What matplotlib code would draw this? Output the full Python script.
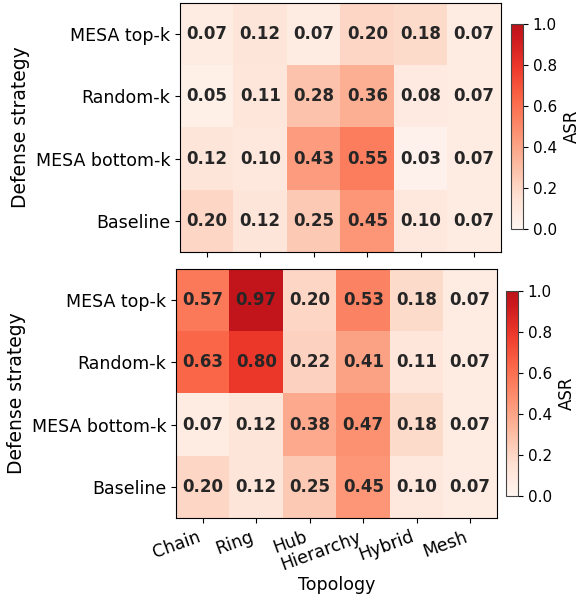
import numpy as np
import matplotlib
matplotlib.use("Agg")
import matplotlib.pyplot as plt
from matplotlib.colors import LinearSegmentedColormap

topologies = ["Chain", "Ring", "Hub", "Hierarchy", "Hybrid", "Mesh"]
strategies = ["MESA top-k", "Random-k", "MESA bottom-k", "Baseline"]

asr_top = np.array([
    [0.07, 0.12, 0.07, 0.20, 0.18, 0.07],
    [0.05, 0.11, 0.28, 0.36, 0.08, 0.07],
    [0.12, 0.10, 0.43, 0.55, 0.03, 0.07],
    [0.20, 0.12, 0.25, 0.45, 0.10, 0.07],
])
asr_bottom = np.array([
    [0.57, 0.97, 0.20, 0.53, 0.18, 0.07],
    [0.63, 0.80, 0.22, 0.41, 0.11, 0.07],
    [0.07, 0.12, 0.38, 0.47, 0.18, 0.07],
    [0.20, 0.12, 0.25, 0.45, 0.10, 0.07],
])

# Reds, cut before the darkest maroon end
reds = plt.get_cmap("Reds")
cmap = LinearSegmentedColormap.from_list("reds_cut", reds(np.linspace(0, 0.8, 256)))

fig = plt.figure(figsize=(5.84, 5.96), dpi=100)
W, H = 584, 596


def box(x0, y0, x1, y1):
    return [x0 / W, 1 - y1 / H, (x1 - x0) / W, (y1 - y0) / H]


panels = [
    (asr_top, box(180, 3, 501, 252), box(511, 24, 523, 229), False),
    (asr_bottom, box(176, 269, 497, 518), box(506, 291, 518, 496), True),
]

for data, apos, cpos, show_x in panels:
    ax = fig.add_axes(apos)
    cax = fig.add_axes(cpos)
    im = ax.imshow(data, cmap=cmap, vmin=0, vmax=1, aspect="auto")
    for i in range(data.shape[0]):
        for j in range(data.shape[1]):
            ax.text(j, i, f"{data[i, j]:.2f}", ha="center", va="center",
                    fontsize=12, fontweight="bold", color="#262626")
    ax.set_yticks(range(len(strategies)))
    ax.set_yticklabels(strategies, fontsize=12.5)
    ax.set_xticks(range(len(topologies)))
    if show_x:
        ax.set_xticklabels(topologies, fontsize=12.5, rotation=20, ha="right")
        ax.set_xlabel("Topology", fontsize=12.5, labelpad=2)
    else:
        ax.set_xticklabels([])
    ax.set_ylabel("Defense strategy", fontsize=13.5)
    cb = fig.colorbar(im, cax=cax)
    cb.set_label("ASR", fontsize=12)
    cb.ax.tick_params(labelsize=11)
    cb.set_ticks([0, 0.2, 0.4, 0.6, 0.8, 1.0])
    cb.outline.set_edgecolor("#444444")

fig.savefig("out.png", dpi=100)
